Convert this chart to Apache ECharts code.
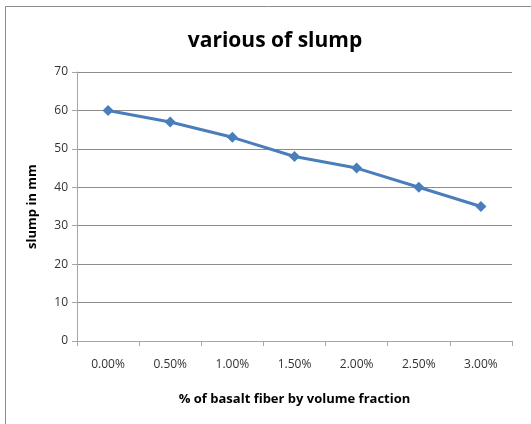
<!DOCTYPE html>
<html lang="en">
<head>
    <meta charset="UTF-8">
    <title>various of slump</title>
    <script src="https://cdn.jsdelivr.net/npm/echarts@6/dist/echarts.min.js"></script>
    <style>
        html, body { margin: 0; padding: 0; background: #fff; }
        #chart { width: 531px; height: 424px; }
    </style>
</head>
<body>
    <div id="chart"></div>
<script>
    // data
    var fiberPct = ['0.00%', '0.50%', '1.00%', '1.50%', '2.00%', '2.50%', '3.00%'];
    var slump = [60, 57, 53, 48, 45, 40, 35];
    var yTicks = { min: 0, max: 70, step: 10 };

    var font = '"Open Sans", "Liberation Sans", sans-serif';

    var option = {
        backgroundColor: '#fff',
        animation: false,
        graphic: [{
            type: 'rect',
            shape: { x: 5.5, y: 6.5, width: 540, height: 440 },
            style: { fill: 'none', stroke: '#8c8c8c', lineWidth: 1 },
            silent: true
        }],
        title: {
            text: 'various of slump',
            left: 270,
            top: 26,
            textAlign: 'center',
            textStyle: { fontFamily: font, fontSize: 21, fontWeight: 'bold', color: '#000' }
        },
        grid: { left: 77, right: 19, top: 72, bottom: 83 },
        xAxis: {
            type: 'category',
            data: fiberPct,
            boundaryGap: true,
            name: '% of basalt fiber by volume fraction',
            nameLocation: 'middle',
            nameGap: 52,
            nameTextStyle: { fontFamily: font, fontSize: 13, fontWeight: 'bold', color: '#000' },
            axisLine: { lineStyle: { color: '#a6a6a6' } },
            axisTick: { show: true, length: 5, alignWithLabel: false, lineStyle: { color: '#a6a6a6' } },
            axisLabel: { fontFamily: font, fontSize: 12, color: '#333', margin: 18 }
        },
        yAxis: {
            type: 'value',
            min: yTicks.min,
            max: yTicks.max,
            interval: yTicks.step,
            name: 'slump in mm',
            nameLocation: 'middle',
            nameGap: 38,
            nameTextStyle: { fontFamily: font, fontSize: 13, fontWeight: 'bold', color: '#000' },
            axisLine: { show: true, lineStyle: { color: '#a6a6a6' } },
            axisTick: { show: true, length: 5, lineStyle: { color: '#a6a6a6' } },
            axisLabel: { fontFamily: font, fontSize: 12, color: '#333', margin: 9 },
            splitLine: { lineStyle: { color: '#8c8c8c', width: 1 } }
        },
        series: [{
            type: 'line',
            data: slump,
            symbol: 'diamond',
            symbolSize: 11,
            lineStyle: { color: '#4a7ebb', width: 3 },
            itemStyle: { color: '#4a7ebb' }
        }]
    };

    var myChart = echarts.init(document.getElementById('chart'));
    myChart.setOption(option);
</script>
</body>
</html>
